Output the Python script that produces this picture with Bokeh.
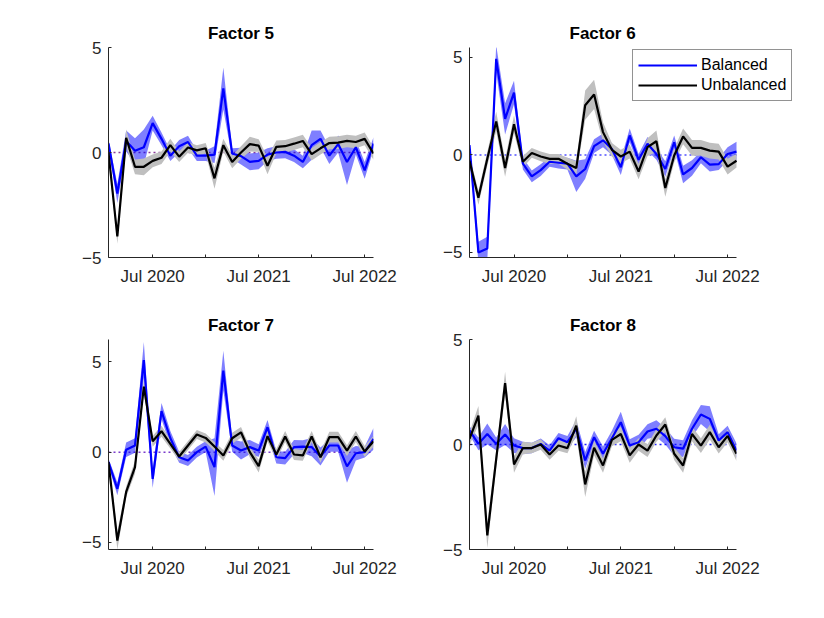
import pandas as pd
from bokeh.plotting import figure
from bokeh.layouts import column, row
from bokeh.models import FixedTicker, Range1d, Legend, LegendItem
from bokeh.embed import file_html
from bokeh.resources import INLINE

# ---- data -------------------------------------------------------------
months = [d.strftime("%b %Y") for d in pd.date_range("2020-02-01", "2022-08-01", freq="MS")]

titles = ["Factor 5", "Factor 6", "Factor 7", "Factor 8"]

bal_5 = [0.43, -1.95, 0.55, 0.08, 0.25, 1.4, 0.65, -0.15, 0.3, 0.5, -0.15, -0.15, -0.1, 3.05, -0.05, -0.17,
         -0.45, -0.4, -0.1, 0.0, 0.03, -0.15, -0.45, 0.35, 0.65, -0.15, 0.4, -0.45, 0.25, -0.85, 0.43]
bal_5_hw = [0.2, 0.45, 0.5, 0.6, 0.85, 0.35, 0.3, 0.25, 0.3, 0.3, 0.25, 0.25, 0.4, 1.0, 0.25, 0.4,
            0.4, 0.4, 0.3, 0.3, 0.3, 0.3, 0.3, 0.7, 0.4, 0.4, 0.4, 1.1, 0.35, 0.4, 0.3]
unb_5 = [0.0, -4.0, 0.7, -0.68, -0.68, -0.4, -0.25, 0.35, -0.2, 0.24, 0.1, 0.2, -1.23, 0.35, -0.45, 0.0,
         0.4, 0.33, -0.63, 0.27, 0.3, 0.42, 0.55, -0.08, 0.2, 0.45, 0.47, 0.55, 0.5, 0.65, -0.05]
unb_5_hw = [0.3, 0.35, 0.4, 0.35, 0.4, 0.3, 0.3, 0.3, 0.25, 0.25, 0.25, 0.25, 0.5, 0.3, 0.3, 0.3,
            0.35, 0.3, 0.4, 0.3, 0.3, 0.3, 0.3, 0.3, 0.3, 0.3, 0.3, 0.3, 0.3, 0.3, 0.3]

bal_6 = [0.5, -5.0, -4.8, 4.93, 1.85, 3.2, -0.45, -1.1, -0.78, -0.35, -0.4, -0.45, -1.1, -0.72, 0.45, 0.75,
         0.3, -0.63, 1.0, -0.25, 0.57, 0.05, -0.72, 0.65, -1.0, -0.67, -0.12, -0.5, -0.47, 0.05, 0.17]
bal_6_hw = [0.2, 0.55, 0.6, 0.7, 0.8, 0.6, 0.3, 0.3, 0.3, 0.25, 0.3, 0.3, 0.8, 0.5, 0.35, 0.35,
            0.3, 0.4, 0.35, 0.3, 0.35, 0.3, 0.4, 0.35, 0.45, 0.4, 0.3, 0.35, 0.3, 0.35, 0.5]
unb_6 = [-0.3, -2.2, -0.2, 1.72, -0.67, 1.57, -0.35, 0.1, -0.08, -0.2, -0.2, -0.45, -0.67, 2.55, 3.1, 1.17,
         0.26, -0.08, 0.17, -0.85, 0.4, 0.7, -1.7, -0.03, 0.95, 0.36, 0.36, 0.22, 0.17, -0.6, -0.3]
unb_6_hw = [0.3, 0.35, 0.35, 0.5, 0.45, 0.45, 0.3, 0.25, 0.25, 0.25, 0.25, 0.3, 0.35, 0.75, 0.75, 0.5,
            0.35, 0.35, 0.35, 0.4, 0.45, 0.55, 0.45, 0.35, 0.4, 0.4, 0.4, 0.4, 0.4, 0.4, 0.35]

bal_7 = [-0.55, -2.03, 0.13, 0.37, 5.1, -1.48, 2.27, 0.77, -0.28, -0.46, 0.0, 0.31, -0.83, 4.52, 0.37, 0.09,
         0.28, 0.09, 1.38, -0.28, -0.33, 0.28, 0.31, 0.28, -0.24, 0.37, 0.37, -0.79, -0.06, 0.0, 0.74]
bal_7_hw = [0.2, 0.35, 0.4, 0.4, 1.0, 0.5, 0.45, 0.4, 0.3, 0.3, 0.3, 0.3, 1.6, 1.1, 0.35, 0.5,
            0.4, 0.35, 0.4, 0.35, 0.35, 0.4, 0.35, 0.5, 0.5, 0.35, 0.35, 0.9, 0.4, 0.3, 0.6]
unb_7 = [-0.55, -4.9, -2.2, -0.83, 3.63, 0.6, 1.16, 0.46, -0.24, 0.37, 0.98, 0.79, 0.31, -0.18, 0.77, 1.1,
         0.0, -0.77, 0.89, -0.13, 0.87, -0.13, -0.18, 0.87, -0.28, 0.83, 0.83, 0.09, 0.87, 0.04, 0.6]
unb_7_hw = [0.2, 0.5, 0.3, 0.35, 0.4, 0.3, 0.3, 0.25, 0.25, 0.25, 0.25, 0.25, 0.25, 0.3, 0.3, 0.3,
            0.3, 0.35, 0.3, 0.3, 0.3, 0.3, 0.3, 0.3, 0.3, 0.3, 0.3, 0.3, 0.3, 0.3, 0.3]

bal_8 = [0.67, 0.03, 0.5, 0.03, 0.48, -0.05, -0.17, -0.17, 0.03, -0.29, 0.3, 0.11, 0.75, -0.76, 0.35, -0.44,
         0.3, 1.06, -0.05, 0.11, 0.62, 0.75, 0.4, -0.13, -0.2, 0.75, 1.43, 1.22, 0.19, 0.59, -0.29]
bal_8_hw = [0.2, 0.3, 0.5, 0.3, 0.5, 0.35, 0.3, 0.25, 0.25, 0.25, 0.25, 0.3, 0.4, 0.4, 0.3, 0.35,
            0.35, 0.5, 0.3, 0.35, 0.35, 0.4, 0.4, 0.4, 0.4, 0.4, 0.45, 0.6, 0.3, 0.3, 0.35]
unb_8 = [0.27, 1.38, -4.33, -0.7, 2.92, -0.95, -0.17, -0.17, 0.0, -0.48, -0.05, -0.17, 0.9, -1.9, -0.16, -1.0,
         0.22, 0.5, -0.52, 0.0, -0.29, 0.43, 0.95, -0.44, -1.0, 0.5, -0.05, 0.59, -0.13, 0.41, -0.44]
unb_8_hw = [0.3, 0.45, 0.6, 0.4, 0.55, 0.4, 0.3, 0.25, 0.25, 0.25, 0.25, 0.25, 0.45, 0.6, 0.35, 0.35,
            0.3, 0.35, 0.35, 0.3, 0.3, 0.3, 0.35, 0.3, 0.35, 0.35, 0.35, 0.35, 0.3, 0.3, 0.35]

y_limits = [(-5.0, 5.0), (-5.26, 5.51), (-5.39, 6.24), (-5.0, 5.0)]
y_ticks = [-5, 0, 5]
zero_colors = ["#8a3a9a", "#5050ff", "#7a3acc", "#2020ff"]

series = [
    (bal_5, bal_5_hw, unb_5, unb_5_hw),
    (bal_6, bal_6_hw, unb_6, unb_6_hw),
    (bal_7, bal_7_hw, unb_7, unb_7_hw),
    (bal_8, bal_8_hw, unb_8, unb_8_hw),
]

# ---- styling / layout -------------------------------------------------
FONT = "Liberation Sans"
AX = "#262626"
x = list(range(len(months)))
n_last = len(months) - 1
tick_idx = [i for i, m in enumerate(months) if m.startswith("Jul") or m.startswith("Jan")]
tick_lbl = {i: (months[i] if months[i].startswith("Jul") else "") for i in tick_idx}

# borders: (left, right, top, bottom)
borders = [
    (108, 39, 47, 40),
    (57, 4, 47, 40),
    (108, 39, 42, 50),
    (57, 68, 42, 50),
]
axis_w = [265, 267, 265, 267]
extra_w = [0, 69, 0, 0]      # room for the legend that overhangs the axes in Factor 6
frame_h = [210, 210, 210, 210]

figs = []
for k in range(4):
    bal, bal_hw, unb, unb_hw = series[k]
    bl, br, bt, bb = borders[k]
    fw = axis_w[k] + extra_w[k]
    x_end = n_last * fw / axis_w[k]
    p = figure(frame_width=fw, frame_height=frame_h[k],
               min_border_left=bl, min_border_right=br, min_border_top=bt, min_border_bottom=bb,
               x_range=Range1d(0, x_end), y_range=Range1d(*y_limits[k]),
               output_backend="svg", toolbar_location=None, title=titles[k])
    p.outline_line_color = None
    p.background_fill_color = "white"
    p.border_fill_color = "white"
    p.xgrid.visible = False
    p.ygrid.visible = False

    p.title.text_font = FONT
    p.title.text_font_size = "17px"
    p.title.text_font_style = "bold"
    p.title.text_color = "black"
    p.title.standoff = 9
    if extra_w[k]:
        p.title.align = "left"
        p.title.offset = 100
    else:
        p.title.align = "center"

    for ax in (p.xaxis[0], p.yaxis[0]):
        ax.axis_line_color = AX
        ax.axis_line_width = 1
        ax.major_tick_line_color = AX
        ax.major_tick_in = 3
        ax.major_tick_out = 0
        ax.minor_tick_line_color = None
        ax.major_label_text_font = FONT
        ax.major_label_text_font_size = "17px"
        ax.major_label_text_color = AX
    p.xaxis.ticker = FixedTicker(ticks=tick_idx)
    p.xaxis.major_label_overrides = tick_lbl
    p.xaxis.major_label_standoff = 9
    p.xaxis.bounds = (0, n_last)
    p.yaxis.ticker = FixedTicker(ticks=y_ticks)
    p.yaxis.major_label_standoff = 7

    lo_b = [m - h for m, h in zip(bal, bal_hw)]
    hi_b = [m + h for m, h in zip(bal, bal_hw)]
    lo_u = [m - h for m, h in zip(unb, unb_hw)]
    hi_u = [m + h for m, h in zip(unb, unb_hw)]

    p.segment(x0=[x[0]], x1=[x[-1]], y0=[0], y1=[0], line_color=zero_colors[k],
              line_dash="2 3", line_width=1.5)
    p.varea(x=x, y1=lo_b, y2=hi_b, fill_color="blue", fill_alpha=0.5)
    p.varea(x=x, y1=lo_u, y2=hi_u, fill_color="#bfbfbf", fill_alpha=1.0)
    rb = p.line(x, bal, line_color="blue", line_width=2.2)
    ru = p.line(x, unb, line_color="black", line_width=2.2)

    if k == 1:
        leg = Legend(items=[LegendItem(label="Balanced", renderers=[rb]),
                            LegendItem(label="Unbalanced", renderers=[ru])],
                     location=(163, 156))
        leg.label_text_font = FONT
        leg.label_text_font_size = "16px"
        leg.label_text_color = "black"
        leg.border_line_color = AX
        leg.border_line_width = 1
        leg.background_fill_color = "white"
        leg.background_fill_alpha = 1.0
        leg.padding = 5
        leg.spacing = 0
        leg.margin = 0
        leg.glyph_width = 59
        leg.glyph_height = 20
        leg.label_height = 20
        leg.label_standoff = 4
        p.add_layout(leg, "center")
    figs.append(p)

layout = column(row(figs[0], figs[1]), row(figs[2], figs[3]))
open("out.html", "w").write(file_html(layout, INLINE))
